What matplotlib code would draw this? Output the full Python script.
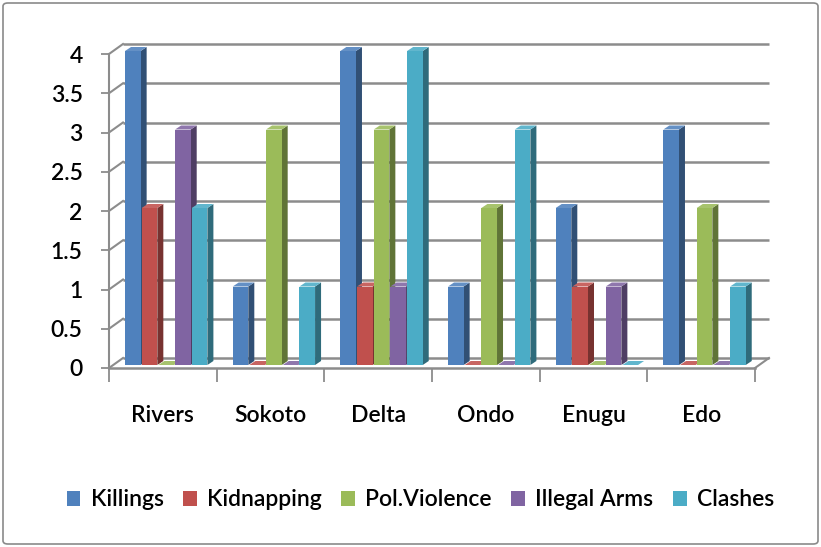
import matplotlib
matplotlib.use("Agg")
import matplotlib.pyplot as plt
from matplotlib.patches import Polygon, FancyBboxPatch, Patch
import matplotlib.colors as mcolors

categories = ["Rivers", "Sokoto", "Delta", "Ondo", "Enugu", "Edo"]
series_names = ["Killings", "Kidnapping", "Pol.Violence", "Illegal Arms", "Clashes"]
killings = [4, 1, 4, 1, 2, 3]
kidnapping = [2, 0, 1, 0, 1, 0]
pol_violence = [0, 3, 3, 2, 0, 2]
illegal_arms = [3, 0, 1, 0, 1, 0]
clashes = [2, 1, 4, 3, 0, 1]
y_ticks = [0, 0.5, 1, 1.5, 2, 2.5, 3, 3.5, 4]
y_tick_labels = ["0", "0.5", "1", "1.5", "2", "2.5", "3", "3.5", "4"]

series = [killings, kidnapping, pol_violence, illegal_arms, clashes]
colors = ["#4F81BD", "#C0504D", "#9BBB59", "#8064A2", "#4BACC6"]

FONT = "Lato"
FS = 16.5
FW = "semibold"
W, H = 821, 547
fig = plt.figure(figsize=(W / 100, H / 100), dpi=100)

# figure border
fig.patches.append(FancyBboxPatch((3 / W, 3 / H), (W - 6) / W, (H - 6) / H,
                                  boxstyle="round,pad=0,rounding_size=0.006",
                                  transform=fig.transFigure, fill=False,
                                  edgecolor="#8a8a8a", linewidth=1.2))

ax_l, ax_r, ax_b, ax_t = 109, 755, 368, 54
ax = fig.add_axes([ax_l / W, (H - ax_b) / H, (ax_r - ax_l) / W, (ax_b - ax_t) / H])
ax.set_xlim(0, 6)
ax.set_ylim(0, 4)
ax.patch.set_visible(False)

pxx = 6 / (ax_r - ax_l)
pxy = 4 / (ax_b - ax_t)

grid_c = "#8c8c8c"
# wall depth
wdx, wdy = 14 * pxx, 10 * pxy
for y in y_ticks:
    ax.plot([0 + wdx, 6 + wdx], [y + wdy, y + wdy], color=grid_c, lw=1.8, zorder=1, clip_on=False,
            solid_capstyle="butt")
    ax.plot([0, wdx], [y, y + wdy], color=grid_c, lw=1.5, zorder=1, clip_on=False)
ax.plot([6, 6 + wdx], [0, wdy], color=grid_c, lw=1.5, zorder=1, clip_on=False)

# bars
fdx, fdy = 3 * pxx, 3 * pxy      # front face offset into the depth
bdx, bdy = 6 * pxx, 4 * pxy      # bar depth
w = 0.145
step = 0.155
start = 0.121

def shade(c, f):
    r, g, b = mcolors.to_rgb(c)
    if f < 1:
        return (r * f, g * f, b * f)
    return (r + (1 - r) * (f - 1), g + (1 - g) * (f - 1), b + (1 - b) * (f - 1))

z = 3.0
for gi in range(len(categories)):
    for si, vals in enumerate(series):
        v = vals[gi]
        x0 = gi + start + si * step + fdx
        y0 = fdy
        c = colors[si]
        side = Polygon([(x0 + w, y0), (x0 + w + bdx, y0 + bdy), (x0 + w + bdx, y0 + v + bdy),
                        (x0 + w, y0 + v)], closed=True, facecolor=shade(c, 0.62),
                       edgecolor="none", zorder=z, clip_on=False)
        top = Polygon([(x0, y0 + v), (x0 + bdx, y0 + v + bdy), (x0 + w + bdx, y0 + v + bdy),
                       (x0 + w, y0 + v)], closed=True, facecolor=shade(c, 1.12),
                      edgecolor="none", zorder=z + 0.001, clip_on=False)
        ax.add_patch(side)
        ax.add_patch(top)
        ax.bar(x0, v, width=w, bottom=y0, align="edge", color=c, zorder=z + 0.002,
               clip_on=False, linewidth=0)
        z += 0.01

# spines
for s in ["top", "right"]:
    ax.spines[s].set_visible(False)
ax.spines["left"].set_color(grid_c)
ax.spines["left"].set_linewidth(1.5)
ax.spines["bottom"].set_color(grid_c)
ax.spines["bottom"].set_linewidth(1.8)

ax.set_yticks(y_ticks)
ax.set_yticklabels(y_tick_labels, fontfamily=FONT, fontsize=FS, fontweight=FW, color="black")
ax.tick_params(axis="y", length=6, width=1.3, color=grid_c, pad=13)

centers = [i + 0.5 for i in range(len(categories))]
ax.set_xticks(centers)
ax.set_xticklabels(categories, fontfamily=FONT, fontsize=FS, fontweight=FW, color="black")
ax.tick_params(axis="x", which="major", length=0, pad=27)
ax.set_xticks(list(range(len(categories) + 1)), minor=True)
ax.tick_params(axis="x", which="minor", length=10, width=1.3, color=grid_c)

handles = [Patch(facecolor=c, edgecolor="none") for c in colors]
fig.legend(handles, series_names, loc="center", bbox_to_anchor=(0.512, 1 - 500 / H), ncol=5,
           frameon=False, prop={"family": FONT, "size": FS, "weight": FW},
           handlelength=0.6, handleheight=0.6, handletextpad=0.45, columnspacing=0.85)

fig.savefig("out.png", dpi=100)
